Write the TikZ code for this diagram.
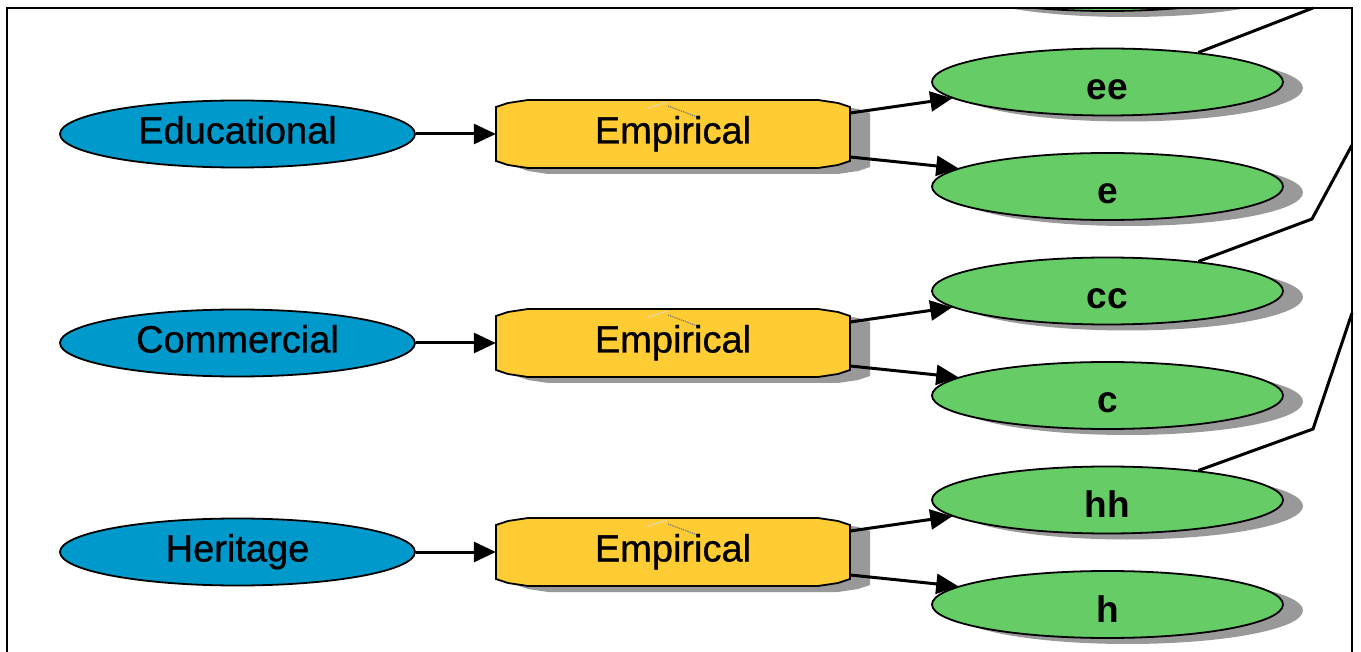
\documentclass[tikz,border=0pt]{standalone}
\usepackage{fontspec}
\setmainfont{Liberation Sans}
\newfontfamily\labelfont[FakeBold=0.8]{Liberation Sans}
\usetikzlibrary{shapes.geometric,shadows,arrows.meta}

\definecolor{srcblue}{RGB}{0,153,204}
\definecolor{boxyellow}{RGB}{255,204,51}
\definecolor{leafgreen}{RGB}{102,204,102}
\definecolor{shadegrey}{RGB}{153,153,153}

% outline of the chamfered method box: left, top, right, bottom
\newcommand\chamferpath[4]{(#1,#2+7) -- (#1+12,#2+3) -- (#1+32,#2) -- (#3-32,#2) -- (#3-12,#2+3) -- (#3,#2+7) -- (#3,#4-7) -- (#3-12,#4-3) -- (#3-32,#4) -- (#1+32,#4) -- (#1+12,#4-3) -- (#1,#4-7) -- cycle}

\begin{document}
\begin{tikzpicture}[x=1pt,y=-1pt,
  source/.style={ellipse, draw, line width=1.8pt, fill=srcblue,
    minimum width=355pt, minimum height=67pt, inner sep=0pt,
    font=\labelfont\fontsize{38}{40}\selectfont, text height=27pt, text depth=8pt},
  method/.style={rectangle, minimum width=354pt, minimum height=68pt, inner sep=0pt,
    font=\labelfont\fontsize{38}{40}\selectfont, text height=27pt, text depth=8pt},
  methodshape/.style={draw, line width=1.8pt, fill=boxyellow},
  target/.style={ellipse, draw, line width=1.8pt, fill=leafgreen,
    minimum width=351pt, minimum height=67pt, inner sep=0pt,
    font=\bfseries\fontsize{37}{40}\selectfont, text height=35pt, text depth=0pt,
    drop shadow={shadow xshift=20pt, shadow yshift=-6pt, fill=shadegrey, opacity=1}},
  flow/.style={line width=3pt, -{Triangle[length=22pt,width=20pt]}},
  link/.style={line width=3pt},
  frame/.style={line width=2.2pt}
]
\useasboundingbox (0,0) rectangle (1361,652);

% outer frame (open at the bottom)
\draw[frame] (7,652) -- (7,8) -- (1352,8) -- (1352,652);

% target reaching in from above the frame
\begin{scope}
  \clip (8,9.5) rectangle (1351,652);
  \node[target] (prev) at (1107.5,-22.5) {};
\end{scope}

\foreach \i/\src/\y/\up/\lo in {1/Educational/134/ee/e, 2/Commercial/343/cc/c, 3/Heritage/552/hh/h} {
  % source ellipse
  \node[source] (src\i) at (237.5,\y) {\src};
  % method box: shadow, body, text
  \fill[shadegrey] \chamferpath{516}{\y-28}{870}{\y+40};
  \draw[methodshape] \chamferpath{496}{\y-34}{850}{\y+34};
  \draw[white!70!gray, line width=1.3pt, dash pattern=on 2pt off 1.5pt] (648,\y-26) -- (668,\y-32);
  \draw[gray, line width=1.3pt, densely dotted] (668,\y-28) -- (700,\y-16);
  \node[method] (box\i) at (673,\y) {Empirical};
  % target ellipses
  \node[target] (\up) at (1107.5,\y-52) {\up};
  \node[target] (\lo) at (1107.5,\y+52.5) {\lo};
  % connectors
  \draw[flow] (src\i.east) -- (box\i.west);
  \draw[flow] ([yshift=21pt]box\i.east) -- (\up.186.7);
  \draw[flow] ([yshift=-23pt]box\i.east) -- (\lo.173.3);
}

% links leaving the right-hand side
\coordinate (topexit) at (1313,8);
\coordinate (bendc) at (1312,219);
\coordinate (exitc) at (1352,145);
\coordinate (bendh) at (1313,429);
\coordinate (exith) at (1352,313);
\draw[link] (ee.18) -- (topexit);
\draw[link] (cc.18) -- (bendc) -- (exitc);
\draw[link] (hh.18) -- (bendh) -- (exith);
\end{tikzpicture}
\end{document}
